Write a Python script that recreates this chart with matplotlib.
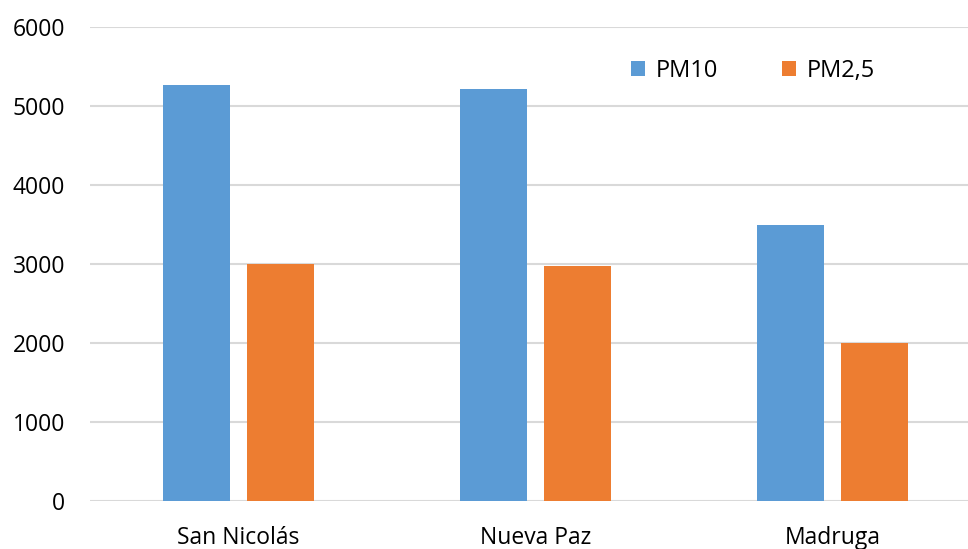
import numpy as np
import matplotlib.pyplot as plt

sites = ["San Nicolás", "Nueva Paz", "Madruga"]
pm10 = [5260, 5220, 3500]
pm25 = [3000, 2980, 2000]
yticks = [0, 1000, 2000, 3000, 4000, 5000, 6000]

plt.rcParams['font.family'] = ['Open Sans', 'DejaVu Sans']

W, H = 968, 549
fig = plt.figure(figsize=(W / 100, H / 100), dpi=100)
ax = fig.add_axes([90 / W, (H - 501) / H, (981 - 90) / W, (501 - 27) / H])

x = np.arange(len(sites))
w = 0.225
ax.bar(x - 0.1425, pm10, w, color='#5B9BD5', label='PM10', zorder=3)
ax.bar(x + 0.1425, pm25, w, color='#ED7D31', label='PM2,5', zorder=3)

ax.set_xlim(-0.5, 2.5)
ax.set_ylim(0, 6000)
ax.set_yticks(yticks)
ax.set_xticks(x)
ax.set_xticklabels(sites)
ax.tick_params(axis='both', length=0, labelsize=16.5, colors='black')
ax.tick_params(axis='y', pad=18)
ax.tick_params(axis='x', pad=18)
ax.grid(axis='y', color='#d9d9d9', linewidth=1.5, zorder=0)
for s in ax.spines.values():
    s.set_visible(False)

ax.legend(loc='center', bbox_to_anchor=(753 / W, (H - 71) / H),
          bbox_transform=fig.transFigure, ncol=2, frameon=False,
          fontsize=17, handlelength=0.6, handleheight=0.6,
          handletextpad=0.45, columnspacing=2.7)

fig.savefig('out.png', dpi=100)
